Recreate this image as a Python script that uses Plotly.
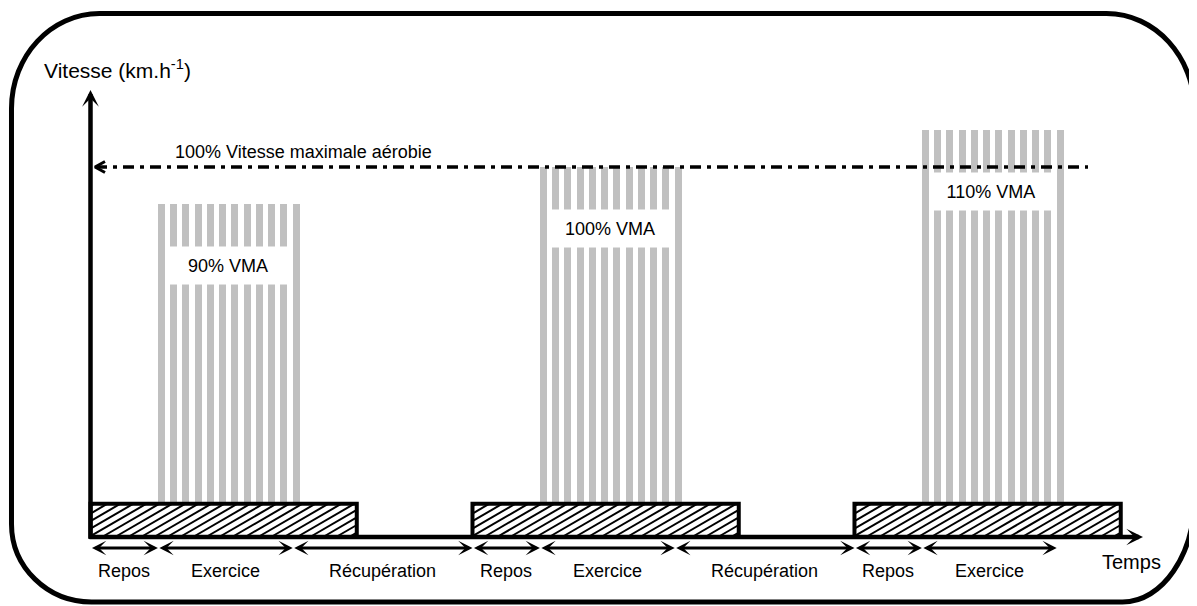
import numpy as np
import plotly.graph_objects as go

# ---------------- data ----------------
phase_labels = ["Repos", "Exercice", "Récupération", "Repos", "Exercice",
                "Récupération", "Repos", "Exercice"]
phase_durations = [3, 6, 8, 3, 6, 8, 3, 6]          # time units
intensities = [90, 100, 110]                         # % VMA of each block
intensity_labels = ["90% VMA", "100% VMA", "110% VMA"]
reps_per_block = 12
vma_line = 100
vma_line_label = "100% Vitesse maximale aérobie"
base_block_duration = 11.85
base_block_height = 9
y_title = "Vitesse (km.h<sup>-1</sup>)"
x_title = "Temps"

# ---------------- geometry (layout only) ----------------
W, H = 1197, 606
OFF = 8.0                       # page body margin
X0_PX, PX_PER_T = 90.5, 22.47   # screen coordinates
Y0_PX, PX_PER_V = 537.0, 3.7
x_range = [(0 + OFF - X0_PX) / PX_PER_T, (W + OFF - X0_PX) / PX_PER_T]
y_range = [(Y0_PX - H - OFF) / PX_PER_V, (Y0_PX - OFF) / PX_PER_V]


def tx(px):
    return (px - X0_PX) / PX_PER_T


def vy(py):
    return (Y0_PX - py) / PX_PER_V


def dt(px):
    return px / PX_PER_T


def dv(px):
    return px / PX_PER_V


FONT = "Liberation Sans, Arial, sans-serif"
GRAY = "#c0c0c0"

starts = np.concatenate([[0], np.cumsum(phase_durations)[:-1]])
ends = np.cumsum(phase_durations)
ex_idx = [i for i, p in enumerate(phase_labels) if p == "Exercice"]
rest_idx = [i for i, p in enumerate(phase_labels) if p == "Repos"]

fig = go.Figure()

# gray repetition bars
bar_w = dt(7)
bx, by = [], []
lefts_all = []
for k, i in enumerate(ex_idx):
    s, d = starts[i], phase_durations[i]
    lefts = s + np.arange(reps_per_block) * d / (reps_per_block - 1)
    lefts_all.append(lefts)
    bx += list(lefts + bar_w / 2)
    by += [intensities[k]] * reps_per_block
fig.add_trace(go.Bar(x=bx, y=by, width=bar_w, marker=dict(color=GRAY, line=dict(width=0)),
                     hoverinfo="skip"))

# hatched base blocks (white fill + hatch lines)
fx, fy, hx, hy = [], [], [], []
slope = 0.58
spacing = 13.0
for i in rest_idx:
    t0 = starts[i]
    t1 = t0 + base_block_duration
    fx += [t0, t1, t1, t0, t0, None]
    fy += [0, 0, base_block_height, base_block_height, 0, None]
    x0p = X0_PX + t0 * PX_PER_T
    x1p = X0_PX + t1 * PX_PER_T
    ybot = Y0_PX
    ytop = Y0_PX - base_block_height * PX_PER_V
    hh = ybot - ytop
    c = x0p - hh / slope + 4
    while c < x1p:
        xa = max(x0p, c)
        xb = min(x1p, c + hh / slope)
        if xb > xa:
            ya = ybot - (xa - c) * slope
            yb = ybot - (xb - c) * slope
            hx += [tx(xa), tx(xb), None]
            hy += [vy(ya), vy(yb), None]
        c += spacing
fig.add_trace(go.Scatter(x=fx, y=fy, fill="toself", fillcolor="white", mode="lines",
                         line=dict(width=0, color="white"), hoverinfo="skip"))
fig.add_trace(go.Scatter(x=hx, y=hy, mode="lines", line=dict(color="black", width=2),
                         hoverinfo="skip"))

# VMA reference line arrow head (open chevron)
tip = 95
fig.add_trace(go.Scatter(x=[tx(tip + 10), tx(tip), tx(tip + 10)],
                         y=[vma_line + dv(5.5), vma_line, vma_line - dv(5.5)],
                         mode="lines", line=dict(color="black", width=3), hoverinfo="skip"))

shapes = []
# block borders
for i in rest_idx:
    t0 = starts[i]
    shapes.append(dict(type="rect", xref="x", yref="y", x0=t0, x1=t0 + base_block_duration,
                       y0=0, y1=base_block_height, line=dict(color="black", width=4),
                       fillcolor="rgba(0,0,0,0)", layer="above"))
# dash-dot VMA line
shapes.append(dict(type="line", xref="x", yref="y", x0=tx(tip + 1), x1=tx(1088),
                   y0=vma_line, y1=vma_line,
                   line=dict(color="black", width=3.5, dash="11px,6px,4px,6px"), layer="above"))

# rounded frame (screen px -> paper)
xl, xr, yt, yb = 11.5, 1194.5, 13.5, 602.0
k = 0.5523
tl = (88, 95)
tr = (88, 97)
br = (72, 105)
bl = (80, 78)


def P(px, py):
    return f"{(px - OFF) / W:.5f},{1 - (py - OFF) / H:.5f}"


path = (
    f"M{P(xl, yt + tl[1])}"
    f" C{P(xl, yt + tl[1] - k * tl[1])} {P(xl + tl[0] - k * tl[0], yt)} {P(xl + tl[0], yt)}"
    f" L{P(xr - tr[0], yt)}"
    f" C{P(xr - tr[0] + k * tr[0], yt)} {P(xr, yt + tr[1] - k * tr[1])} {P(xr, yt + tr[1])}"
    f" L{P(xr, yb - br[1])}"
    f" C{P(xr, yb - br[1] + k * br[1])} {P(xr - br[0] + k * br[0], yb)} {P(xr - br[0], yb)}"
    f" L{P(xl + bl[0], yb)}"
    f" C{P(xl + bl[0] - k * bl[0], yb)} {P(xl, yb - bl[1] + k * bl[1])} {P(xl, yb - bl[1])}"
    " Z"
)
shapes.append(dict(type="path", xref="paper", yref="paper", path=path,
                   line=dict(color="black", width=5), fillcolor="rgba(0,0,0,0)", layer="above"))

ann = []
# axes arrows
ann.append(dict(x=0, y=vy(90), ax=0, ay=vy(540), xref="x", yref="y", axref="x", ayref="y",
                text="", showarrow=True, arrowhead=3, arrowsize=0.62, arrowwidth=4.5,
                arrowcolor="black"))
ann.append(dict(x=tx(1143), y=0, ax=tx(88), ay=0, xref="x", yref="y", axref="x", ayref="y",
                text="", showarrow=True, arrowhead=3, arrowsize=0.62, arrowwidth=4.5,
                arrowcolor="black"))
# phase arrows and labels
v_arrow = vy(548)
for i, lab in enumerate(phase_labels):
    s, e = starts[i], ends[i]
    ann.append(dict(x=e, y=v_arrow, ax=s, ay=v_arrow, xref="x", yref="y", axref="x", ayref="y",
                    text="", showarrow=True, arrowside="end+start", arrowhead=3,
                    startarrowhead=3, arrowsize=0.85, startarrowsize=0.85, arrowwidth=2.8,
                    arrowcolor="black"))
    ann.append(dict(x=(s + e) / 2, y=vy(571), xref="x", yref="y", text=lab, showarrow=False,
                    font=dict(family=FONT, size=18, color="black")))
# intensity labels (white boxes)
for kk, lefts in enumerate(lefts_all):
    bx0 = (lefts[0] + bar_w + lefts[1]) / 2
    bx1 = lefts[-2] + bar_w
    wpx = (bx1 - bx0) * PX_PER_T
    ann.append(dict(x=(bx0 + bx1) / 2, y=intensities[kk] - 16.5, xref="x", yref="y",
                    text=intensity_labels[kk], showarrow=False, bgcolor="white",
                    width=wpx, height=37, borderpad=0,
                    font=dict(family=FONT, size=18, color="black")))
# texts
ann.append(dict(x=tx(303.5), y=vy(152), xref="x", yref="y", text=vma_line_label,
                showarrow=False, font=dict(family=FONT, size=18, color="black")))
ann.append(dict(x=tx(42), y=vy(69), xref="x", yref="y", text=y_title, xanchor="left",
                showarrow=False, font=dict(family=FONT, size=21, color="black")))
ann.append(dict(x=tx(1131), y=vy(562), xref="x", yref="y", text=x_title,
                showarrow=False, font=dict(family=FONT, size=20, color="black")))

fig.update_layout(
    width=W, height=H, margin=dict(l=0, r=0, t=0, b=0, pad=0),
    paper_bgcolor="white", plot_bgcolor="white", showlegend=False,
    xaxis=dict(range=x_range, visible=False, fixedrange=True),
    yaxis=dict(range=y_range, visible=False, fixedrange=True),
    shapes=shapes, annotations=ann, bargap=0,
)
fig.write_html("out.html")
